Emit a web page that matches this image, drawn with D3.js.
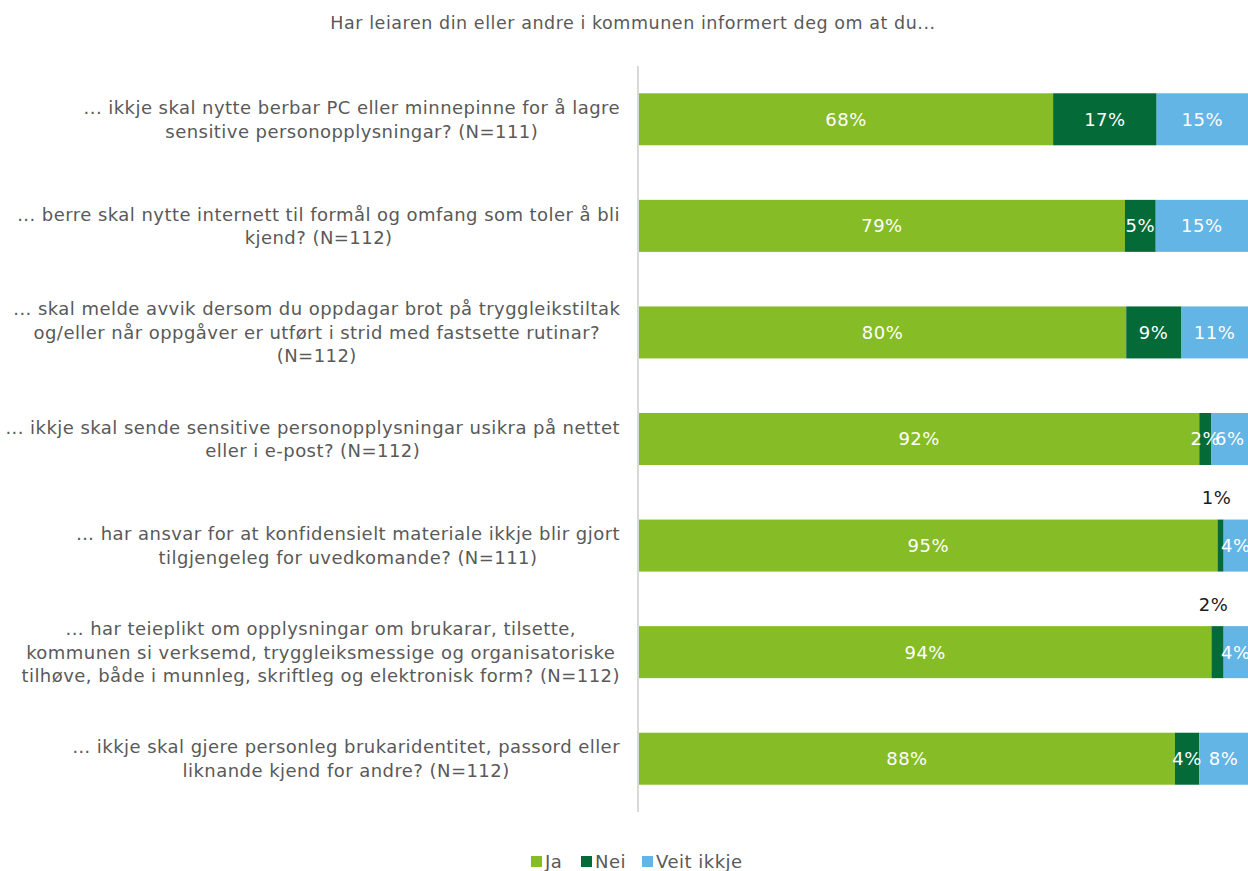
<!DOCTYPE html>
<html>
<head>
<meta charset="utf-8">
<script src="https://cdn.jsdelivr.net/npm/d3@7"></script>
<style>
  html, body { margin: 0; padding: 0; background: #fff; }
  svg { display: block; font-family: "DejaVu Sans", Verdana, sans-serif; }
</style>
</head>
<body>
<svg id="chart" width="1248" height="871"></svg>
<script>
// Survey statements (each line of a label is one entry)
const categories = [
  ["... ikkje skal nytte berbar PC eller minnepinne for å lagre", "sensitive personopplysningar? (N=111)"],
  ["... berre skal nytte internett til formål og omfang som toler å bli", "kjend? (N=112)"],
  ["... skal melde avvik dersom du oppdagar brot på tryggleikstiltak", "og/eller når oppgåver er utført i strid med fastsette rutinar?", "(N=112)"],
  ["... ikkje skal sende sensitive personopplysningar usikra på nettet", "eller i e-post? (N=112)"],
  ["… har ansvar for at konfidensielt materiale ikkje blir gjort", "tilgjengeleg for uvedkomande? (N=111)"],
  ["... har teieplikt om opplysningar om brukarar, tilsette,", "kommunen si verksemd, tryggleiksmessige og organisatoriske", "tilhøve, både i munnleg, skriftleg og elektronisk form? (N=112)"],
  ["… ikkje skal gjere personleg brukaridentitet, passord eller", "liknande kjend for andre? (N=112)"]
];

// Series values (percent)
const ja        = [68, 79, 80, 92, 95, 94, 88];
const nei       = [17,  5,  9,  2,  1,  2,  4];
const veitIkkje = [15, 15, 11,  6,  4,  4,  8];

const seriesNames = ["Ja", "Nei", "Veit ikkje"];
const seriesColors = ["#86BC25", "#046A38", "#62B5E5"];

// Rows whose "Nei" label sits above the bar
const neiLabelAbove = [4, 5];

const title = "Har leiaren din eller andre i kommunen informert deg om at du...";

const svg = d3.select("#chart");
const plot = { left: 639, right: 1248, top: 66, bottom: 812 };
const textColor = "#595959";

// Build normalized stacked rows
const rows = categories.map((c, i) => {
  const vals = [ja[i], nei[i], veitIkkje[i]];
  const total = d3.sum(vals);
  return { i, label: c, vals, total };
});

const y = d3.scaleBand()
  .domain(d3.range(categories.length))
  .range([plot.top, plot.bottom])
  .paddingInner(0.512)
  .paddingOuter(0.256);

const x = d3.scaleLinear().domain([0, 1]).range([plot.left, plot.right]);

// Title
svg.append("text")
  .attr("x", 633).attr("y", 29)
  .attr("text-anchor", "middle")
  .attr("fill", textColor)
  .style("font-size", "17.5px")
  .style("letter-spacing", "0.55px")
  .text(title);

// Bars
const stack = d3.stack()
  .keys([0, 1, 2])
  .value((d, k) => d.vals[k] / d.total);
const layers = stack(rows);

const gBars = svg.append("g");
layers.forEach((layer, k) => {
  gBars.selectAll(null)
    .data(layer)
    .join("rect")
    .attr("x", d => x(d[0]))
    .attr("y", d => y(d.data.i))
    .attr("width", d => x(d[1]) - x(d[0]))
    .attr("height", y.bandwidth())
    .attr("fill", seriesColors[k]);
});

// Value labels
layers.forEach((layer, k) => {
  gBars.selectAll(null)
    .data(layer)
    .join("text")
    .attr("x", d => {
      const above = k === 1 && neiLabelAbove.includes(d.data.i);
      return (x(d[0]) + x(d[1])) / 2 - (above ? 4 : 0);
    })
    .attr("y", d => {
      const above = k === 1 && neiLabelAbove.includes(d.data.i);
      return above ? y(d.data.i) - 22 : y(d.data.i) + y.bandwidth() / 2;
    })
    .attr("dy", "0.36em")
    .attr("text-anchor", "middle")
    .attr("fill", d => (k === 1 && neiLabelAbove.includes(d.data.i)) ? "#1a1a1a" : "#ffffff")
    .style("font-size", "18px")
    .style("letter-spacing", "0.5px")
    .text(d => d.data.vals[k] + "%");
});

// Vertical category axis line
svg.append("line")
  .attr("x1", plot.left - 1).attr("x2", plot.left - 1)
  .attr("y1", plot.top).attr("y2", plot.bottom)
  .attr("stroke", "#BFBFBF").attr("stroke-width", 1.2);

// Category labels: centered block, right edge near the axis
const lineH = 23.5;
const gLab = svg.append("g")
  .attr("fill", textColor)
  .style("font-size", "18px")
  .style("letter-spacing", "0.45px");
rows.forEach(r => {
  const t = gLab.append("text").attr("text-anchor", "middle");
  const spans = r.label.map(s => t.append("tspan").text(s));
  const widths = spans.map(s => s.node().getComputedTextLength());
  const maxW = d3.max(widths);
  const cx = 620 - maxW / 2;
  const n = r.label.length;
  const cy = y(r.i) + y.bandwidth() / 2;
  spans.forEach((s, j) => {
    s.attr("x", cx)
     .attr("y", cy + (j - (n - 1) / 2) * lineH)
     .attr("dy", "0.36em");
  });
});

// Legend
const legend = svg.append("g").style("font-size", "18px").style("letter-spacing", "0.5px");
const legendItems = [
  { name: seriesNames[0], color: seriesColors[0], x: 531 },
  { name: seriesNames[1], color: seriesColors[1], x: 581 },
  { name: seriesNames[2], color: seriesColors[2], x: 642 }
];
legendItems.forEach(it => {
  legend.append("rect")
    .attr("x", it.x).attr("y", 856)
    .attr("width", 11).attr("height", 11)
    .attr("fill", it.color);
  legend.append("text")
    .attr("x", it.x + 14).attr("y", 862)
    .attr("dy", "0.36em")
    .attr("fill", textColor)
    .text(it.name);
});
</script>
</body>
</html>
